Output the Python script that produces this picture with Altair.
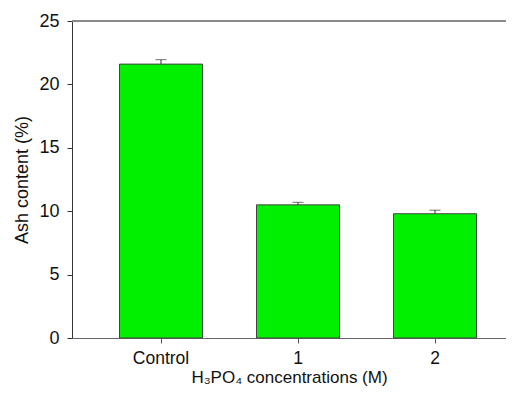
import altair as alt
import pandas as pd

categories = ["Control", "1", "2"]
ash = [21.6, 10.5, 9.8]
err = [0.35, 0.2, 0.28]

df = pd.DataFrame({"cat": categories, "ash": ash, "err": err})
df["upper"] = df["ash"] + df["err"]

FONT = "Liberation Sans"
W, H = 434, 317

xenc = alt.X("cat:N", sort=categories,
             scale=alt.Scale(paddingInner=0.394, paddingOuter=0.281, align=0.617),
             axis=alt.Axis(title="H₃PO₄ concentrations (M)", labelAngle=0,
                           labelFontSize=17.5, titleFontSize=17, labelPadding=6,
                           titlePadding=3, tickSize=5, domainColor="#666666",
                           tickColor="#555555", labelColor="#111111",
                           titleColor="#111111", titleFontWeight="normal"))

bars = alt.Chart(df).mark_bar(color="#00F000", stroke="#444444", strokeWidth=1).encode(
    x=xenc,
    y=alt.Y("ash:Q", scale=alt.Scale(domain=[0, 25], nice=False),
            axis=alt.Axis(title="Ash content (%)", values=[0, 5, 10, 15, 20, 25],
                          labelFontSize=18, titleFontSize=18, tickSize=5,
                          labelPadding=8, titlePadding=7, grid=False,
                          domainColor="#333333", tickColor="#333333",
                          labelColor="#111111", titleColor="#111111",
                          titleFontWeight="normal")),
)

rules = alt.Chart(df).mark_rule(color="#333333", strokeWidth=1).encode(
    x=alt.X("cat:N", sort=categories), y="ash:Q", y2="upper:Q")

caps = alt.Chart(df).mark_tick(color="#333333", thickness=1, size=11, orient="horizontal").encode(
    x=alt.X("cat:N", sort=categories), y="upper:Q")

topline = alt.Chart(df).mark_rule(color="#888888", strokeWidth=1.5).encode(
    x=alt.value(0), x2=alt.value(W), y=alt.value(0))

chart = alt.layer(bars, rules, caps, topline).properties(
    width=W, height=H,
    autosize=alt.AutoSizeParams(type="none"),
    padding={"left": 64, "top": 13, "right": 0, "bottom": 50},
).configure_view(stroke=None).configure(font=FONT)

chart.save("out.html", embed_options={"renderer": "svg", "actions": False})
